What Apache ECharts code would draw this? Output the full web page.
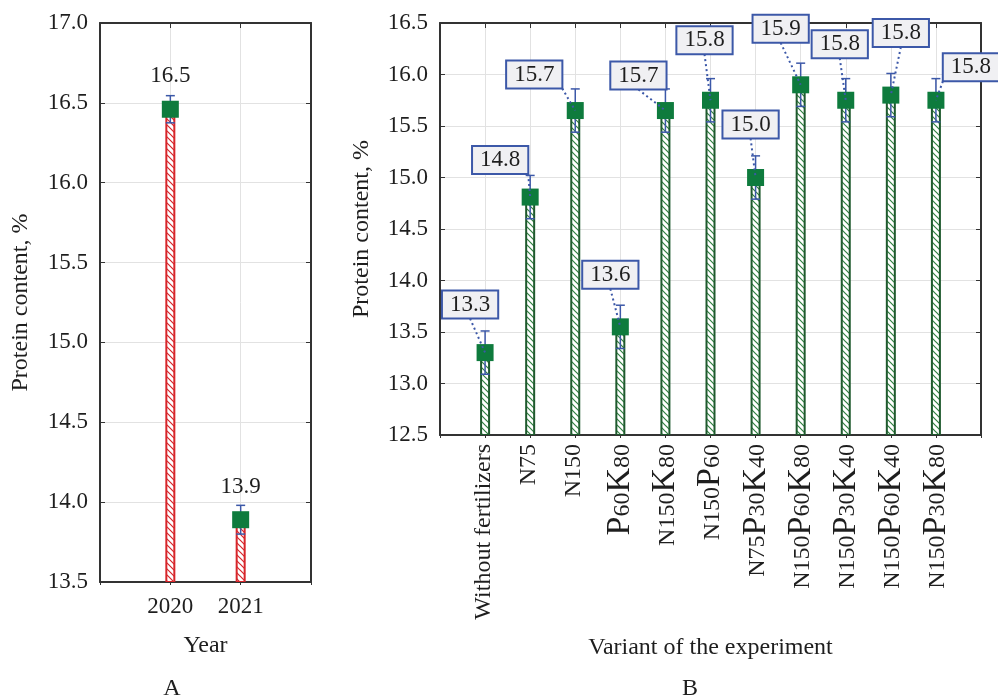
<!DOCTYPE html>
<html><head><meta charset="utf-8">
<script src="https://cdn.jsdelivr.net/npm/echarts@6/dist/echarts.min.js"></script>
<style>html,body{margin:0;padding:0;background:#fff}#c{width:998px;height:699px}</style>
</head><body><div id="c"></div>
<script>
// ---- data ----
const years = [2020, 2021];
const yearValues = [16.46, 13.89];
const yearErrors = [0.085, 0.09];

const variants = ['Without fertilizers', 'N75', 'N150', 'P60K80', 'N150K80', 'N150P60',
  'N75P30K40', 'N150P60K80', 'N150P30K40', 'N150P60K40', 'N150P30K80'];
const variantValues = [13.30, 14.81, 15.65, 13.55, 15.65, 15.75, 15.00, 15.90, 15.75, 15.80, 15.75];
const variantErrors = [0.21, 0.21, 0.21, 0.21, 0.21, 0.21, 0.21, 0.21, 0.21, 0.21, 0.21];

// ---- layout / style (pixel offsets of boxed labels) ----
const labelOffsets = [[-15,-48],[-30,-37],[-41,-36],[-10,-52],[-27,-35],[-6,-60],[-5,-53],[-20,-56],[-6,-56],[10,-62],[35,-33]];
const FONT = "'Liberation Serif','Times New Roman',serif";
const TXT = '#1e1e1e';
const AXIS = '#333';
const GRIDC = '#e2e2e2';
const BLUE = '#3c58a8';
const GREEN = '#0e7b3d';
const FS = 23;
const FN = 24;

function fmt(v){ return (Math.round(v*10 + 1e-6)/10).toFixed(1); }

function hatch(color){
  const c = document.createElement('canvas');
  c.width = 6; c.height = 6;
  const g = c.getContext('2d');
  g.fillStyle = '#fff'; g.fillRect(0,0,6,6);
  g.strokeStyle = color; g.lineWidth = 1.2;
  g.beginPath();
  g.moveTo(0,0); g.lineTo(6,6);
  g.moveTo(-3,3); g.lineTo(3,9);
  g.moveTo(3,-3); g.lineTo(9,3);
  g.stroke();
  return c;
}

function barSeries(xi, yi, xs, vals, yMin, border, hatchColor){
  const pat = {image: hatch(hatchColor), repeat: 'repeat'};
  return {
    type: 'custom', xAxisIndex: xi, yAxisIndex: yi, z: 2, clip: true,
    data: xs.map((x,i)=>[x, vals[i]]),
    renderItem(p, api){
      const top = api.coord([api.value(0), api.value(1)]);
      const base = api.coord([api.value(0), yMin]);
      return {type:'rect', shape:{x: top[0]-4, y: top[1], width: 8, height: base[1]-top[1]},
        style:{fill: pat, stroke: border, lineWidth: 2}};
    }
  };
}

function errSeries(xi, yi, xs, vals, errs){
  return {
    type: 'custom', xAxisIndex: xi, yAxisIndex: yi, z: 3,
    data: xs.map((x,i)=>[x, vals[i]-errs[i], vals[i]+errs[i]]),
    renderItem(p, api){
      const lo = api.coord([api.value(0), api.value(1)]);
      const hi = api.coord([api.value(0), api.value(2)]);
      const w = 4.5, st = {stroke: BLUE, lineWidth: 1.5};
      return {type:'group', children:[
        {type:'line', shape:{x1:lo[0], y1:lo[1], x2:hi[0], y2:hi[1]}, style: st},
        {type:'line', shape:{x1:lo[0]-w, y1:lo[1], x2:lo[0]+w, y2:lo[1]}, style: st},
        {type:'line', shape:{x1:hi[0]-w, y1:hi[1], x2:hi[0]+w, y2:hi[1]}, style: st}
      ]};
    }
  };
}

function markerSeries(xi, yi, xs, vals, label){
  return {
    type: 'scatter', xAxisIndex: xi, yAxisIndex: yi, z: 4,
    symbol: 'rect', symbolSize: 17,
    itemStyle: {color: GREEN, opacity: 1},
    label: label || {show: false},
    data: xs.map((x,i)=>[x, vals[i]])
  };
}

function richLabel(s){
  return '{n|' + s.replace(/([PK])/g, '}{b|$1}{n|') + '}';
}

const axisLineStyle = {show: true, onZero: false, lineStyle: {color: AXIS, width: 2}};
const tickLbl = {fontFamily: FONT, fontSize: FS, color: TXT};
const nameStyle = {fontFamily: FONT, fontSize: FN, color: TXT};

const variantX = variants.map((_, i) => i + 1);

const option = {
  animation: false,
  backgroundColor: '#fff',
  grid: [
    {left: 100, top: 23, width: 211, height: 559},
    {left: 440, top: 23, width: 541, height: 412}
  ],
  xAxis: [
    {gridIndex: 0, type: 'value', min: 2019, max: 2022, interval: 1, position: 'bottom',
     axisLine: axisLineStyle, axisTick: {show: true, inside: false, length: 3, lineStyle: {color: AXIS}},
     axisLabel: Object.assign({margin: 13, formatter: v => years.includes(v) ? String(v) : ''}, tickLbl),
     splitLine: {show: true, lineStyle: {color: GRIDC}},
     name: 'Year', nameLocation: 'middle', nameGap: 52, nameTextStyle: nameStyle},
    {gridIndex: 0, type: 'value', min: 2019, max: 2022, interval: 1, position: 'top',
     axisLine: axisLineStyle, axisTick: {show: true, inside: true, length: 5, lineStyle: {color: AXIS}},
     axisLabel: {show: false}, splitLine: {show: false}},
    {gridIndex: 1, type: 'value', min: 0, max: 12, interval: 1, position: 'bottom',
     axisLine: axisLineStyle, axisTick: {show: true, inside: false, length: 3, lineStyle: {color: AXIS}},
     axisLabel: {rotate: 90, margin: 9, color: TXT, fontFamily: FONT,
       formatter: v => (v >= 1 && v <= variants.length) ? richLabel(variants[v-1]) : '',
       rich: {
         n: {fontFamily: FONT, fontSize: 24, color: TXT, verticalAlign: 'bottom', padding: [0, 0, 3, 0]},
         b: {fontFamily: FONT, fontSize: 34, color: TXT, verticalAlign: 'bottom'}
       }},
     splitLine: {show: true, lineStyle: {color: GRIDC}},
     name: 'Variant of the experiment', nameLocation: 'middle', nameGap: 201, nameTextStyle: nameStyle},
    {gridIndex: 1, type: 'value', min: 0, max: 12, interval: 1, position: 'top',
     axisLine: axisLineStyle, axisTick: {show: true, inside: true, length: 5, lineStyle: {color: AXIS}},
     axisLabel: {show: false}, splitLine: {show: false}}
  ],
  yAxis: [
    {gridIndex: 0, type: 'value', min: 13.5, max: 17.0, interval: 0.5, position: 'left',
     axisLine: axisLineStyle, axisTick: {show: true, inside: true, length: 5, lineStyle: {color: AXIS}},
     axisLabel: Object.assign({margin: 12, formatter: v => v.toFixed(1)}, tickLbl),
     splitLine: {show: true, lineStyle: {color: GRIDC}},
     name: 'Protein content, %', nameLocation: 'middle', nameGap: 67, nameTextStyle: nameStyle},
    {gridIndex: 0, type: 'value', min: 13.5, max: 17.0, interval: 0.5, position: 'right',
     axisLine: axisLineStyle, axisTick: {show: true, inside: true, length: 5, lineStyle: {color: AXIS}},
     axisLabel: {show: false}, splitLine: {show: false}},
    {gridIndex: 1, type: 'value', min: 12.5, max: 16.5, interval: 0.5, position: 'left',
     axisLine: axisLineStyle, axisTick: {show: true, inside: true, length: 5, lineStyle: {color: AXIS}},
     axisLabel: Object.assign({margin: 12, formatter: v => v.toFixed(1)}, tickLbl),
     splitLine: {show: true, lineStyle: {color: GRIDC}},
     name: 'Protein content, %', nameLocation: 'middle', nameGap: 66, nameTextStyle: nameStyle},
    {gridIndex: 1, type: 'value', min: 12.5, max: 16.5, interval: 0.5, position: 'right',
     axisLine: axisLineStyle, axisTick: {show: true, inside: true, length: 5, lineStyle: {color: AXIS}},
     axisLabel: {show: false}, splitLine: {show: false}}
  ],
  series: [
    barSeries(0, 0, years, yearValues, 13.5, '#d7262b', '#d7262b'),
    errSeries(0, 0, years, yearValues, yearErrors),
    markerSeries(0, 0, years, yearValues, {
      show: true, position: 'inside', offset: [0, -33],
      formatter: p => fmt(p.value[1]), fontFamily: FONT, fontSize: FS, color: TXT
    }),
    barSeries(2, 2, variantX, variantValues, 12.5, '#1f5a2e', '#2f8040'),
    errSeries(2, 2, variantX, variantValues, variantErrors),
    markerSeries(2, 2, variantX, variantValues),
    {
      type: 'custom', xAxisIndex: 2, yAxisIndex: 2, z: 6, clip: false,
      data: variantX.map((x,i)=>[x, variantValues[i]]),
      renderItem(p, api){
        const i = p.dataIndex;
        const pt = api.coord([api.value(0), api.value(1)]);
        const off = labelOffsets[i];
        const cx = pt[0] + off[0], cy = pt[1] + off[1];
        const hw = 28, hh = 14;
        let ax = cx, ay = cy + hh;
        if (pt[0] > cx + hw) ax = cx + hw; else if (pt[0] < cx - hw) ax = cx - hw;
        return {type: 'group', children: [
          {type: 'line', shape: {x1: ax, y1: ay, x2: pt[0], y2: pt[1]},
           style: {stroke: BLUE, lineWidth: 2, lineDash: [2, 3]}},
          {type: 'text', x: cx, y: cy, style: {
            text: fmt(api.value(1)), fontFamily: FONT, fontSize: FS, fill: TXT,
            align: 'center', verticalAlign: 'middle', lineHeight: 22,
            backgroundColor: '#f0f0f3', borderColor: BLUE, borderWidth: 2, padding: [2, 7]}}
        ]};
      }
    }
  ],
  graphic: [
    {type: 'text', x: 172, y: 689, style: {text: 'A', fontFamily: FONT, fontSize: FN, fill: TXT, align: 'center', verticalAlign: 'middle'}},
    {type: 'text', x: 690, y: 689, style: {text: 'B', fontFamily: FONT, fontSize: FN, fill: TXT, align: 'center', verticalAlign: 'middle'}}
  ]
};

const chart = echarts.init(document.getElementById('c'), null, {renderer: 'canvas'});
chart.setOption(option);
</script>
</body></html>
